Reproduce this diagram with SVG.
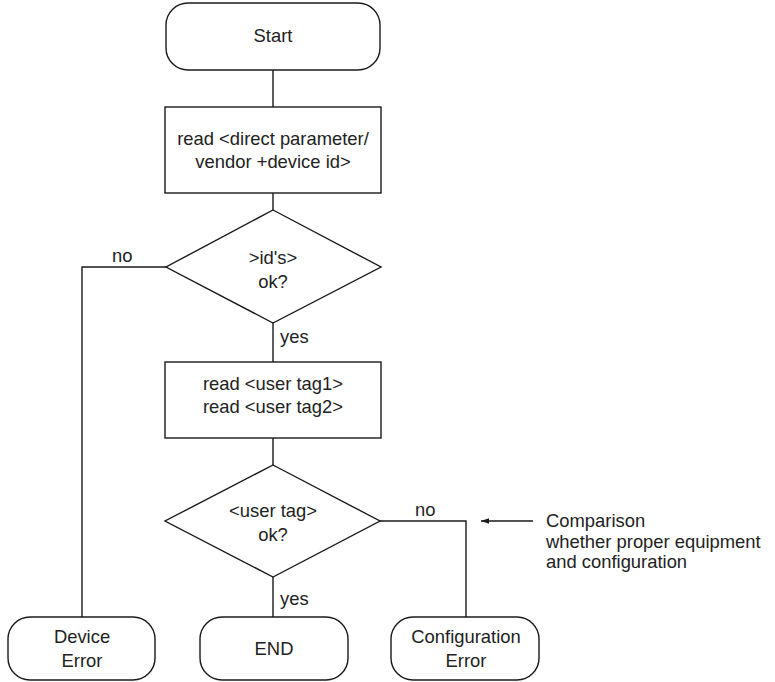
<svg xmlns="http://www.w3.org/2000/svg" width="775" height="682" viewBox="0 0 775 682">
  <style>
    .shape { fill: #ffffff; stroke: #1a1a1a; stroke-width: 1.4; }
    .wire { fill: none; stroke: #1a1a1a; stroke-width: 1.4; }
    text { font-family: "Liberation Sans", Arial, sans-serif; font-size: 18.4px; fill: #222222; }
    .c { text-anchor: middle; }
  </style>
  <defs>
    <marker id="arrow" viewBox="0 0 10 10" refX="10" refY="5" markerWidth="10" markerHeight="8" markerUnits="userSpaceOnUse" orient="auto">
      <path d="M0,1.5 L10,5 L0,8.5 Z" fill="#1a1a1a"/>
    </marker>
  </defs>
  <rect width="775" height="682" fill="#ffffff"/>

  <!-- connectors -->
  <g id="connectors">
    <line class="wire" x1="273" y1="70" x2="273" y2="107"/>
    <line class="wire" x1="273" y1="193" x2="273" y2="210"/>
    <line class="wire" x1="273" y1="323" x2="273" y2="362"/>
    <line class="wire" x1="273" y1="438" x2="273" y2="465"/>
    <line class="wire" x1="273" y1="577" x2="273" y2="617"/>
    <polyline class="wire" points="166,267 82,267 82,617"/>
    <polyline class="wire" points="380,521 466,521 466,617"/>
    <line class="wire" x1="533" y1="521" x2="481" y2="521" marker-end="url(#arrow)"/>
    <text x="112" y="262">no</text>
    <text x="280" y="343">yes</text>
    <text x="415" y="516">no</text>
    <text x="280" y="605">yes</text>
  </g>

  <g id="start">
    <rect class="shape" x="166" y="3" width="214" height="67" rx="22"/>
    <text class="c" x="273" y="42">Start</text>
  </g>

  <g id="read-ids">
    <rect class="shape" x="165" y="107" width="216" height="86"/>
    <text class="c" x="273" y="145">read &lt;direct parameter/</text>
    <text class="c" x="273" y="168">vendor +device id&gt;</text>
  </g>

  <g id="ids-ok">
    <polygon class="shape" points="273,210 381,267 273,323 166,267"/>
    <text class="c" x="273" y="264">&gt;id's&gt;</text>
    <text class="c" x="273" y="288">ok?</text>
  </g>

  <g id="read-tags">
    <rect class="shape" x="165" y="362" width="216" height="76"/>
    <text class="c" x="273" y="390">read &lt;user tag1&gt;</text>
    <text class="c" x="273" y="413">read &lt;user tag2&gt;</text>
  </g>

  <g id="tag-ok">
    <polygon class="shape" points="273,465 380,521 273,577 165,521"/>
    <text class="c" x="273" y="517">&lt;user tag&gt;</text>
    <text class="c" x="273" y="541">ok?</text>
  </g>

  <g id="device-error">
    <rect class="shape" x="8" y="617" width="147" height="63" rx="22"/>
    <text class="c" x="82" y="643">Device</text>
    <text class="c" x="82" y="667">Error</text>
  </g>

  <g id="end">
    <rect class="shape" x="200" y="617" width="148" height="63" rx="22"/>
    <text class="c" x="274" y="655">END</text>
  </g>

  <g id="config-error">
    <rect class="shape" x="391" y="617" width="148" height="63" rx="22"/>
    <text class="c" x="466" y="643">Configuration</text>
    <text class="c" x="466" y="667">Error</text>
  </g>

  <g id="comparison-note">
    <text x="546" y="527">Comparison</text>
    <text x="546" y="548">whether proper equipment</text>
    <text x="546" y="568">and configuration</text>
  </g>
</svg>
